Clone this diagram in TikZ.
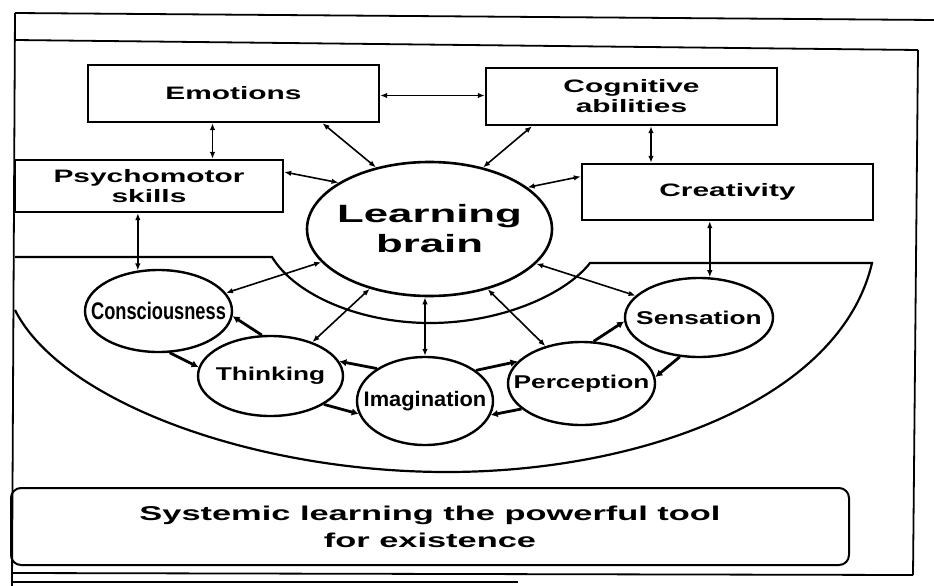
\documentclass[tikz,border=0pt]{standalone}
\usepackage{fontspec}
\setmainfont{Liberation Sans}
\newfontfamily\boxfont{Liberation Sans}[FakeStretch=1.66]
\newfontfamily\brainfont{Liberation Sans}[FakeStretch=1.75]
\newfontfamily\loopfont{Liberation Sans}[FakeStretch=1.42]
\newfontfamily\narrowfont{Liberation Sans}[FakeStretch=0.76]
\newfontfamily\imafont{Liberation Sans}[FakeStretch=1.04]
\newfontfamily\footfont{Liberation Sans}[FakeStretch=1.72]
\usetikzlibrary{shapes.geometric,arrows.meta}
\newcommand\nowidth[1]{\makebox[0pt]{#1}}

\begin{document}
\begin{tikzpicture}[x=1pt,y=-1pt,>={Latex[length=7pt,width=5.5pt]},
  box/.style={draw,line width=2.4pt,inner sep=0pt,align=center,
    font=\boxfont\bfseries\fontsize{18}{20}\selectfont},
  oval/.style={ellipse,draw,fill=white,line width=2.4pt,inner sep=0pt},
  conn/.style={<->,line width=1.6pt},
  cyc/.style={->,line width=2.8pt,>={Latex[length=7pt,width=7.5pt]}},
  frame/.style={line width=1.8pt}]
\useasboundingbox (0,0) rectangle (934,586);
%\draw[help lines] (0,0) grid[step=50] (934,586);

% page frame
\draw[frame] (15,13) -- (934,20);
\draw[frame] (15,40) -- (918,50);
\draw[frame] (15,13) -- (12,586);
\draw[frame] (918,50) -- (913,575);
\draw[frame] (12,573) -- (913,575);
\draw[frame] (12,582) -- (518,582);

% half ring
\draw[line width=2.2pt] (15,257) -- (272,257)
  .. controls (295,295) and (360,323) .. (430,323)
  .. controls (500,323) and (565,295) .. (590,263) -- (872,263)
  .. controls (840,400) and (640,472) .. (447,472)
  .. controls (250,472) and (60,400) .. (15,310);

% boxes
\node[box,minimum width=291,minimum height=57] (emo) at (233.5,93.5) {Emotions};
\node[box,minimum width=291,minimum height=57] (cog) at (631.5,96.5) {Cognitive\\abilities};
\node[box,minimum width=268,minimum height=52] (psy) at (149,186) {Psychomotor\\skills};
\node[box,minimum width=291,minimum height=56] (cre) at (727.5,192) {Creativity};

% centre
\node[oval,line width=2.6pt,minimum width=245,minimum height=134,align=center,
  font=\brainfont\bfseries\fontsize{25}{30}\selectfont] (brain) at (429.5,229)
  {\nowidth{Learning}\\\nowidth{brain}};

% ring of ovals
\node[oval,minimum width=147,minimum height=82,
  font=\narrowfont\bfseries\fontsize{24}{26}\selectfont] (con) at (158.5,311) {\nowidth{Consciousness}};
\node[oval,minimum width=145,minimum height=80,
  font=\loopfont\bfseries\fontsize{18.5}{20}\selectfont] (thk) at (270.5,376) {\nowidth{Thinking}};
\node[oval,minimum width=136,minimum height=88,
  font=\imafont\bfseries\fontsize{21}{23}\selectfont] (ima) at (425,401) {\nowidth{Imagination}};
\node[oval,minimum width=147,minimum height=83,
  font=\loopfont\bfseries\fontsize{18.5}{20}\selectfont] (per) at (581.5,383.5) {\nowidth{Perception}};
\node[oval,minimum width=148,minimum height=79,
  font=\loopfont\bfseries\fontsize{18.5}{20}\selectfont] (sen) at (699,317.5) {\nowidth{Sensation}};

% box links
\draw[conn] ([yshift=-2pt]emo.east) -- ([yshift=-2pt]emo.east -| cog.west);
\draw[conn] ([xshift=-21pt]emo.south) -- ([xshift=-21pt]emo.south |- psy.north);
\draw[conn] ([xshift=19.5pt]cog.south) -- ([xshift=19.5pt]cog.south |- cre.north);
\draw[conn] (con.117.5 |- psy.south) -- (con.117.5);
\draw[conn] (sen.75.7 |- cre.south) -- (sen.75.7);

% links to the brain
\draw[conn] ([xshift=89pt]emo.south) -- (brain.131.9);
\draw[conn] ([xshift=-99.5pt]cog.south) -- (brain.49);
\draw[conn] ([yshift=14pt]psy.east) -- (brain.153.6);
\draw[conn] ([yshift=15.5pt]cre.west) -- (brain.23.1);
\draw[conn] (brain.197.2) -- (con.15.5);
\draw[conn] (brain.225.2) -- (thk.39);
\draw[conn] (ima.north |- brain.south) -- (ima.north);
\draw[conn] (brain.314.8) -- (per.134.3);
\draw[conn] (brain.342) -- (sen.161.4);

% cycle
\draw[cyc] (thk.102) -- (con.356);
\draw[cyc] (con.285) -- (thk.173.8);
\draw[cyc] (ima.146.3) -- (thk.12.4);
\draw[cyc] (thk.332.5) -- (ima.191.8);
\draw[cyc] (ima.31) -- (per.161);
\draw[cyc] (per.203.3) -- (ima.348.4);
\draw[cyc] (per.74.5) -- (sen.183.6);
\draw[cyc] (sen.244.3) -- (per.5);

% bottom line
\node[draw,rounded corners=10pt,line width=2pt,minimum width=838,minimum height=77,
  align=center,font=\footfont\bfseries\fontsize{20}{27}\selectfont] (foot) at (430,526.5)
  {Systemic learning the powerful tool\\for existence};
\end{tikzpicture}
\end{document}
